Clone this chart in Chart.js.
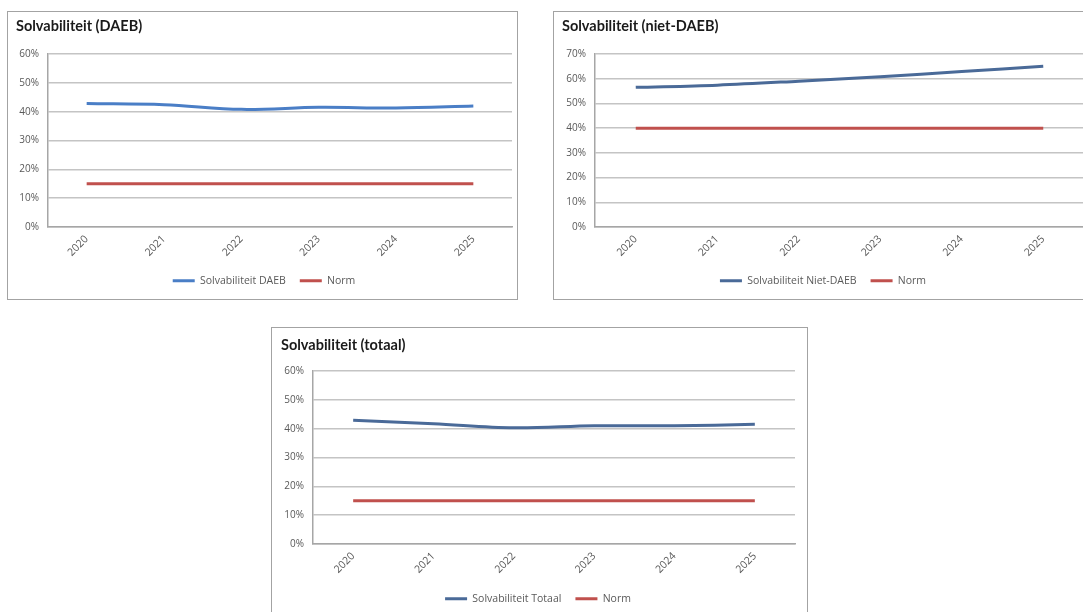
<!DOCTYPE html>
<html>
<head>
<meta charset="utf-8">
<script src="https://cdn.jsdelivr.net/npm/chart.js@4/dist/chart.umd.min.js"></script>
<style>
  html, body { margin: 0; padding: 0; background: #ffffff; }
  body { width: 1083px; height: 612px; position: relative; overflow: hidden; }
  .box { position: absolute; box-sizing: border-box; border: 1.5px solid #a3a3a3; background: #ffffff; }
  canvas { position: absolute; }
</style>
</head>
<body>
<div class="box" style="left:7px; top:11px; width:511px; height:289px;"></div>
<div class="box" style="left:553px; top:11px; width:560px; height:289px;"></div>
<div class="box" style="left:271px; top:327px; width:537px; height:320px;"></div>

<canvas id="c1" width="509" height="287" style="left:8px; top:12px;"></canvas>
<canvas id="c2" width="538" height="287" style="left:554px; top:12px;"></canvas>
<canvas id="c3" width="535" height="292" style="left:272px; top:328px;"></canvas>

<script>
// Years on the horizontal axis
const years = ['2020', '2021', '2022', '2023', '2024', '2025'];

// Solvency ratios (%) per segment
const solvDaeb = [42.8, 42.4, 40.8, 41.5, 41.3, 42.0];
const solvNietDaeb = [56.5, 57.4, 59.0, 60.8, 62.9, 65.0];
const solvTotaal = [42.9, 41.7, 40.3, 41.0, 41.0, 41.5];

// Minimum required solvency (%) per segment
const normDaeb = [15, 15, 15, 15, 15, 15];
const normNietDaeb = [40, 40, 40, 40, 40, 40];
const normTotaal = [15, 15, 15, 15, 15, 15];

// Y-axis maxima and step (%)
const yMaxDaeb = 60;
const yMaxNietDaeb = 70;
const yMaxTotaal = 60;
const yStep = 10;

const GREY_TEXT = '#595959';
const RED = '#c0504d';

function lineChart(id, title, seriesName, values, norm, yMax, blue, lay) {
  const ctx = document.getElementById(id).getContext('2d');
  return new Chart(ctx, {
    type: 'line',
    data: {
      labels: years,
      datasets: [
        {
          label: seriesName,
          data: values,
          borderColor: blue,
          backgroundColor: blue,
          borderWidth: 3,
          pointRadius: 0,
          tension: 0.35,
          fill: false
        },
        {
          label: 'Norm',
          data: norm,
          borderColor: RED,
          backgroundColor: RED,
          borderWidth: 3,
          pointRadius: 0,
          tension: 0,
          fill: false
        }
      ]
    },
    options: {
      responsive: false,
      animation: false,
      devicePixelRatio: 1,
      layout: { padding: lay.padding },
      plugins: {
        tooltip: { enabled: false },
        title: {
          display: true,
          text: title,
          align: 'start',
          color: '#1a1a1a',
          font: { family: 'Lato, "Open Sans", sans-serif', size: 14.5, weight: 'bold', lineHeight: 1.2 },
          padding: lay.titlePadding
        },
        legend: {
          display: true,
          position: 'bottom',
          labels: {
            color: GREY_TEXT,
            font: { family: '"Open Sans", sans-serif', size: 10.5 },
            boxWidth: 22,
            boxHeight: 3,
            padding: 14,
            generateLabels(chart) {
              return Chart.defaults.plugins.legend.labels.generateLabels(chart).map(it => {
                it.lineWidth = 0;
                return it;
              });
            }
          }
        }
      },
      scales: {
        x: {
          type: 'category',
          offset: true,
          grid: { display: false, drawTicks: false },
          border: { display: true, color: '#a6a6a6', width: 1.5 },
          ticks: {
            minRotation: 45,
            maxRotation: 45,
            padding: 6,
            color: GREY_TEXT,
            font: { family: '"Open Sans", sans-serif', size: 10.5 }
          },
          afterFit(scale) { scale.height = lay.xHeight; }
        },
        y: {
          min: 0,
          max: yMax,
          grid: { color: '#c4c4c4', lineWidth: 1.5, drawTicks: false },
          border: { display: true, color: '#a6a6a6', width: 1.5 },
          ticks: {
            stepSize: yStep,
            padding: 9,
            color: GREY_TEXT,
            font: { family: '"Open Sans", sans-serif', size: 10 },
            callback: v => v + '%'
          },
          afterFit(scale) { scale.width = lay.yWidth; }
        }
      }
    }
  });
}

lineChart('c1', 'Solvabiliteit (DAEB)', 'Solvabiliteit DAEB', solvDaeb, normDaeb, yMaxDaeb, '#4a7ec6', {
  padding: { left: 8, right: 5, top: 0, bottom: 3 },
  titlePadding: { top: 5.3, bottom: 19.3 },
  yWidth: 32,
  xHeight: 34.5
});

lineChart('c2', 'Solvabiliteit (niet-DAEB)', 'Solvabiliteit Niet-DAEB', solvNietDaeb, normNietDaeb, yMaxNietDaeb, '#4a6a98', {
  padding: { left: 8, right: 8, top: 0, bottom: 3 },
  titlePadding: { top: 5.3, bottom: 19.3 },
  yWidth: 33,
  xHeight: 34.5
});

lineChart('c3', 'Solvabiliteit (totaal)', 'Solvabiliteit Totaal', solvTotaal, normTotaal, yMaxTotaal, '#4a6a98', {
  padding: { left: 9, right: 12, top: 0, bottom: 6 },
  titlePadding: { top: 8.3, bottom: 17.3 },
  yWidth: 32,
  xHeight: 35.5
});
</script>
</body>
</html>
